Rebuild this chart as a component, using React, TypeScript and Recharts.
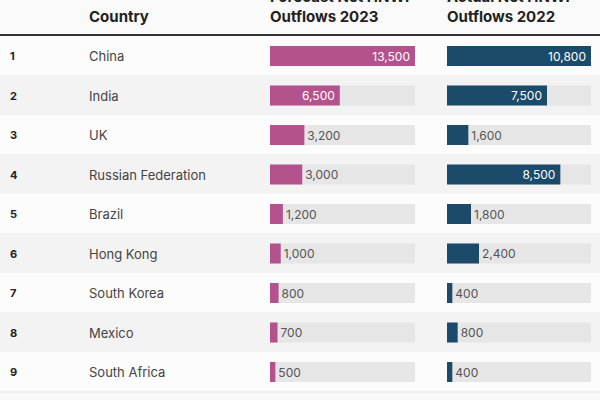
import React from 'react'
import { BarChart, Bar, XAxis, YAxis, LabelList } from 'recharts'

const countries = [
    'China',
    'India',
    'UK',
    'Russian Federation',
    'Brazil',
    'Hong Kong',
    'South Korea',
    'Mexico',
    'South Africa',
]
const forecast2023 = [13500, 6500, 3200, 3000, 1200, 1000, 800, 700, 500]
const actual2022 = [10800, 7500, 1600, 8500, 1800, 2400, 400, 800, 400]
const headers = ['Country', 'Forecast Net HNWI Outflows 2023', 'Actual Net HNWI Outflows 2022']

const rows = countries.map((country, i) => ({
    rank: i + 1,
    country,
    forecast: forecast2023[i],
    actual: actual2022[i],
    band: 1,
}))

const FONT = 'Inter, "Open Sans", sans-serif'
const PINK = '#b4528e'
const NAVY = '#1b4a6b'
const TRACK = '#e6e6e6'
const MARGIN = { top: 36, right: 0, bottom: 8.5, left: 0 }
const HEIGHT = 400

const RowShape = (props: any) => {
    const { x, y, width, height, payload } = props
    const fill = payload.rank % 2 === 1 ? '#fcfcfc' : '#f3f3f3'
    return (
        <g>
            <rect x={x} y={y} width={width} height={height} fill={fill} />
            <line x1={x} x2={x + width} y1={y + height} y2={y + height} stroke="#e4e4e4" strokeWidth={1} />
        </g>
    )
}

const RowLabel = (props: any) => {
    const { x, y, height, index } = props
    const r = rows[index]
    if (!r) return null
    const cy = Number(y) + Number(height) / 2
    return (
        <g fontFamily={FONT}>
            <text x={Number(x) + 10} y={cy} dominantBaseline="central" fontSize={11} fontWeight={700} fill="#222">
                {r.rank}
            </text>
            <text x={Number(x) + 89} y={cy} dominantBaseline="central" fontSize={13} fill="#444">
                {r.country}
            </text>
        </g>
    )
}

const valueLabel = (max: number) => (props: any) => {
    const x = Number(props.x)
    const y = Number(props.y)
    const w = Number(props.width)
    const h = Number(props.height)
    const v = Number(props.value)
    const inside = v / max > 0.4
    return (
        <text
            x={inside ? x + w - 5 : x + w + 3}
            y={y + h / 2}
            dominantBaseline="central"
            textAnchor={inside ? 'end' : 'start'}
            fontSize={12}
            fontFamily={FONT}
            fill={inside ? '#fff' : '#555'}
        >
            {v.toLocaleString('en-US')}
        </text>
    )
}

function ValueChart({ dataKey, max, color, left, width }: any) {
    return (
        <div style={{ position: 'absolute', left, top: 0 }}>
            <BarChart width={width} height={HEIGHT} data={rows} layout="vertical" margin={MARGIN}>
                <XAxis type="number" hide domain={[0, max]} allowDataOverflow />
                <YAxis type="category" dataKey="country" hide />
                <Bar
                    dataKey={dataKey}
                    fill={color}
                    barSize={20}
                    background={{ fill: TRACK }}
                    isAnimationActive={false}
                >
                    <LabelList dataKey={dataKey} content={valueLabel(max)} />
                </Bar>
            </BarChart>
        </div>
    )
}

const headStyle: React.CSSProperties = {
    position: 'absolute',
    top: -13,
    fontFamily: FONT,
    fontWeight: 700,
    fontSize: 15,
    lineHeight: '20px',
    color: '#222',
}

export default function App() {
    return (
        <div
            style={{
                position: 'absolute',
                left: 0,
                top: 0,
                width: 600,
                height: HEIGHT,
                overflow: 'hidden',
                background: '#fafafa',
            }}
        >
            <div style={{ position: 'absolute', left: 0, top: 0 }}>
                <BarChart width={600} height={HEIGHT} data={rows} layout="vertical" margin={MARGIN} barCategoryGap={0}>
                    <XAxis type="number" hide domain={[0, 1]} />
                    <YAxis type="category" dataKey="country" hide />
                    <Bar dataKey="band" shape={RowShape} isAnimationActive={false}>
                        <LabelList dataKey="country" content={RowLabel} />
                    </Bar>
                </BarChart>
            </div>

            <ValueChart dataKey="forecast" max={13500} color={PINK} left={270} width={145} />
            <ValueChart dataKey="actual" max={10800} color={NAVY} left={447} width={144} />

            <div style={{ ...headStyle, top: 7, left: 89 }}>{headers[0]}</div>
            <div style={{ ...headStyle, left: 270, width: 180 }}>
                Forecast Net HNWI
                <br />
                Outflows 2023
            </div>
            <div style={{ ...headStyle, left: 447, width: 180 }}>
                Actual Net HNWI
                <br />
                Outflows 2022
            </div>
            <div style={{ position: 'absolute', left: 0, top: 34, width: 600, height: 2, background: '#333' }} />
        </div>
    )
}
